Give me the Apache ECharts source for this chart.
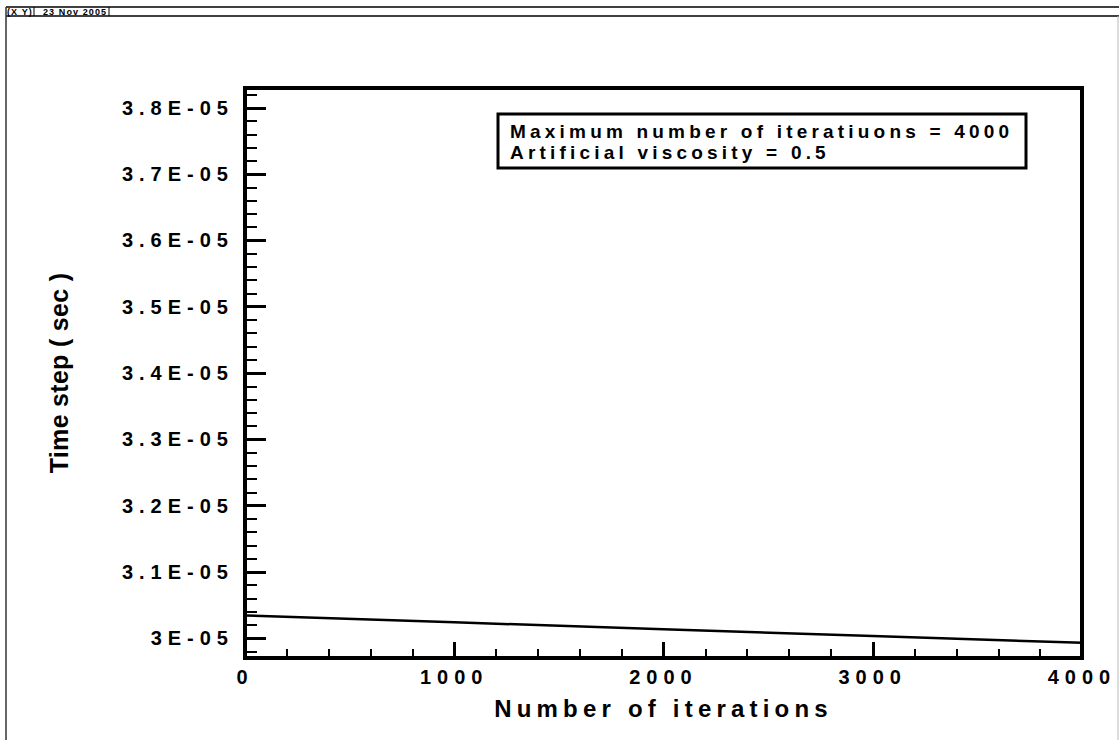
<!DOCTYPE html>
<html><head><meta charset="utf-8">
<script src="https://cdn.jsdelivr.net/npm/echarts@6/dist/echarts.min.js"></script>
<style>html,body{margin:0;padding:0;background:#fff;overflow:hidden;} #c{width:1119px;height:740px;}</style>
</head><body><div id="c"></div>
<script>
// ---- data ----
const iterations = [0, 1000, 2000, 3000, 4000];
const timeStep = [3.0341e-5, 3.0238e-5, 3.0135e-5, 3.0032e-5, 2.9929e-5];
const xTickValues = [0, 1000, 2000, 3000, 4000];
const yTickValues = [3.0e-5, 3.1e-5, 3.2e-5, 3.3e-5, 3.4e-5, 3.5e-5, 3.6e-5, 3.7e-5, 3.8e-5];
const legendLines = ['Maximum number of iteratiuons = 4000', 'Artificial viscosity = 0.5'];
const headerTexts = ['(X Y)', '23 Nov 2005'];
const xTitle = 'Number of iterations';
const yTitle = 'Time step ( sec )';

// minor ticks on the y axis (every 0.02E-05), excluding majors
const yMinorTicks = [];
for (let k = 298; k <= 382; k += 2) { if (k % 10 !== 0) yMinorTicks.push(k * 1e-7); }

const FONT = "'Liberation Sans', Arial, Helvetica, sans-serif";
const spacingBySize = {20: 6.0, 19: 4.2, 24: 5.2, 25: 0.3, 9: 1.1};

const chart = echarts.init(document.getElementById('c'), null, {renderer: 'svg'});
const fmt = v => (Math.round(v * 1e6) / 10) + 'E-05';
const YMIN = 2.97e-5, YMAX = 3.83e-5;

chart.setOption({
  animation: false,
  backgroundColor: '#fff',
  grid: {left: 245, right: 37, top: 88, bottom: 82, show: true, borderColor: '#000', borderWidth: 4, backgroundColor: 'transparent'},
  xAxis: {
    type: 'value', min: 0, max: 4000, interval: 1000,
    axisLine: {show: true, onZero: false, lineStyle: {color: '#000', width: 4}},
    axisTick: {show: true, inside: true, length: 16, lineStyle: {color: '#000', width: 3}},
    minorTick: {show: true, splitNumber: 5, length: 9, lineStyle: {color: '#000', width: 2}},
    splitLine: {show: false},
    axisLabel: {formatter: v => String(v), color: '#000', fontSize: 20, fontWeight: 'bold', fontFamily: FONT, margin: 9, showMaxLabel: true, showMinLabel: true},
    name: xTitle, nameLocation: 'middle', nameGap: 38,
    nameTextStyle: {color: '#000', fontSize: 24, fontWeight: 'bold', fontFamily: FONT}
  },
  yAxis: [{
    type: 'value', min: YMIN, max: YMAX, position: 'left',
    axisLine: {show: true, lineStyle: {color: '#000', width: 4}},
    axisTick: {show: true, inside: true, length: 21, customValues: yTickValues, lineStyle: {color: '#000', width: 3}},
    axisLabel: {customValues: yTickValues, formatter: fmt, color: '#000', fontSize: 20, fontWeight: 'bold', fontFamily: FONT, margin: 11},
    splitLine: {show: false},
    name: yTitle, nameLocation: 'middle', nameGap: 174,
    nameTextStyle: {color: '#000', fontSize: 25, fontWeight: 'bold', fontFamily: FONT}
  }, {
    type: 'value', min: YMIN, max: YMAX, position: 'left',
    axisLine: {show: false},
    axisTick: {show: true, inside: true, length: 12, customValues: yMinorTicks, lineStyle: {color: '#000', width: 2}},
    axisLabel: {show: false},
    splitLine: {show: false}
  }],
  series: [{
    type: 'line', yAxisIndex: 0, showSymbol: false, symbol: 'none',
    data: iterations.map((x, i) => [x, timeStep[i]]),
    lineStyle: {color: '#000', width: 2.5}
  }],
  graphic: [
    {type: 'line', shape: {x1: 6, y1: 7, x2: 1119, y2: 7}, style: {stroke: '#000', lineWidth: 1.5}},
    {type: 'line', shape: {x1: 6, y1: 16, x2: 1119, y2: 16}, style: {stroke: '#000', lineWidth: 1.5}},
    {type: 'line', shape: {x1: 6, y1: 7, x2: 6, y2: 740}, style: {stroke: '#333', lineWidth: 1.5}},
    {type: 'line', shape: {x1: 1118, y1: 16, x2: 1118, y2: 740}, style: {stroke: '#bbb', lineWidth: 1}},
    {type: 'line', shape: {x1: 34, y1: 7, x2: 34, y2: 16}, style: {stroke: '#000', lineWidth: 1}},
    {type: 'line', shape: {x1: 109, y1: 7, x2: 109, y2: 16}, style: {stroke: '#000', lineWidth: 1}},
    {type: 'text', x: 7, y: 11.5, style: {text: headerTexts[0], font: 'bold 9px ' + FONT, fill: '#000', textAlign: 'left', textVerticalAlign: 'middle'}},
    {type: 'text', x: 43, y: 11.5, style: {text: headerTexts[1], font: 'bold 9px ' + FONT, fill: '#000', textAlign: 'left', textVerticalAlign: 'middle'}},
    {type: 'rect', shape: {x: 498, y: 114, width: 528, height: 54}, style: {fill: '#fff', stroke: '#000', lineWidth: 3}, z: 10},
    {type: 'text', x: 510, y: 131, z: 11, style: {text: legendLines[0], font: 'bold 19px ' + FONT, fill: '#000', textAlign: 'left', textVerticalAlign: 'middle'}},
    {type: 'text', x: 510, y: 152, z: 11, style: {text: legendLines[1], font: 'bold 19px ' + FONT, fill: '#000', textAlign: 'left', textVerticalAlign: 'middle'}}
  ]
});

function applySpacing() {
  document.querySelectorAll('#c svg text').forEach(t => {
    const fs = Math.round(parseFloat(getComputedStyle(t).fontSize));
    const sp = spacingBySize[fs];
    if (sp != null) { t.setAttribute('letter-spacing', sp + 'px'); t.style.letterSpacing = sp + 'px'; }
  });
}
chart.on('finished', applySpacing);
chart.getZr().refreshImmediately && chart.getZr().refreshImmediately();
applySpacing();
setTimeout(applySpacing, 50);
setTimeout(applySpacing, 300);
</script>
</body></html>
